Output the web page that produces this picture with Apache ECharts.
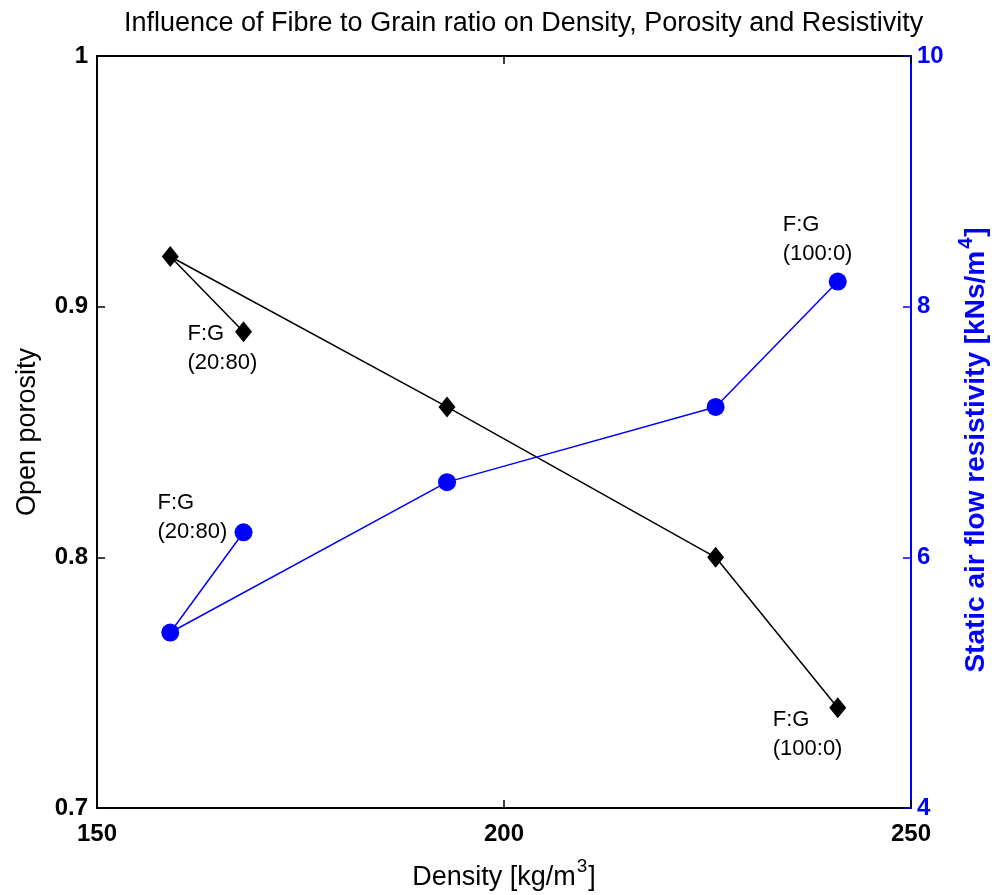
<!DOCTYPE html>
<html>
<head>
<meta charset="utf-8">
<script src="https://cdn.jsdelivr.net/npm/echarts@6/dist/echarts.min.js"></script>
<style>html,body{margin:0;padding:0;background:#fff}#c{width:994px;height:895px}</style>
</head>
<body>
<div id="c"></div>
<script>
const density = [168, 159, 193, 226, 241];
const porosity = [0.89, 0.92, 0.86, 0.80, 0.74];
const resistivity = [6.2, 5.4, 6.6, 7.2, 8.2];
const xTicks = [150, 200, 250];
const leftTicks = [0.7, 0.8, 0.9, 1];
const rightTicks = [4, 6, 8, 10];
const pointLabel = 'F:G';
const ratioStart = '(20:80)';
const ratioEnd = '(100:0)';

const FONT = 'Liberation Sans';
const chart = echarts.init(document.getElementById('c'));

function lbl(text, ox, oy) {
  return {show: true, formatter: text, position: 'inside', align: 'left', verticalAlign: 'middle',
    offset: [ox, oy], color: '#000', fontFamily: FONT, fontSize: 22, lineHeight: 29};
}

const blackData = density.map((d, i) => {
  const o = {value: [d, porosity[i]]};
  if (i === 0) o.label = lbl(pointLabel + '\n' + ratioStart, -56, 17);
  if (i === 4) o.label = lbl(pointLabel + '\n' + ratioEnd, -65, 27);
  return o;
});
const blueData = density.map((d, i) => {
  const o = {value: [d, resistivity[i]]};
  if (i === 0) o.label = lbl(pointLabel + '\n' + ratioStart, -86, -15);
  if (i === 4) o.label = lbl(pointLabel + '\n' + ratioEnd, -55, -42);
  return o;
});

chart.setOption({
  animation: false,
  backgroundColor: '#fff',
  title: {text: 'Influence of Fibre to Grain ratio on Density, Porosity and Resistivity', left: 119, top: 5,
    textStyle: {fontFamily: FONT, fontWeight: 'normal', fontSize: 27, color: '#000'}},
  grid: [{left: 97, right: 83, top: 56, bottom: 87, containLabel: false, outerBoundsMode: 'none'}],
  xAxis: [{
    type: 'value', min: xTicks[0], max: xTicks[xTicks.length - 1], interval: 50,
    name: '{a|Density [kg/m}{s|3}{a|]}', nameLocation: 'middle', nameGap: 49,
    nameTextStyle: {fontFamily: FONT, fontSize: 27, color: '#000',
      rich: {a: {fontFamily: FONT, fontSize: 27, color: '#000', lineHeight: 34, verticalAlign: 'bottom'},
             s: {fontFamily: FONT, fontSize: 19, color: '#000', lineHeight: 34, verticalAlign: 'top', padding: [0, 1, 12, 1]}}},
    axisLine: {lineStyle: {color: '#000', width: 2}},
    axisTick: {inside: true, length: 8, lineStyle: {color: '#000', width: 1.5}},
    axisLabel: {fontFamily: FONT, fontWeight: 'bold', fontSize: 24, color: '#000', margin: 14},
    splitLine: {show: false}
  }, {
    type: 'value', position: 'top', min: 150, max: 250, interval: 50,
    axisLine: {show: true, lineStyle: {color: '#000', width: 2}},
    axisTick: {inside: true, length: 8, lineStyle: {color: '#000', width: 1.5}},
    axisLabel: {show: false}, splitLine: {show: false}
  }],
  yAxis: [{
    type: 'value', min: 0.7, max: 1, interval: 0.1,
    name: 'Open porosity', nameLocation: 'middle', nameGap: 56,
    nameTextStyle: {fontFamily: FONT, fontSize: 27, color: '#000'},
    axisLine: {show: true, lineStyle: {color: '#000', width: 2}},
    axisTick: {inside: true, length: 8, lineStyle: {color: '#000', width: 1.5}},
    axisLabel: {fontFamily: FONT, fontWeight: 'bold', fontSize: 24, color: '#000', margin: 9,
      formatter: v => (Math.abs(v - 1) < 1e-9 ? '1' : v.toFixed(1))},
    splitLine: {show: false}
  }, {
    type: 'value', position: 'right', min: 4, max: 10, interval: 2,
    name: '{a|Static air flow resistivity [kNs/m}{s|4}{a|]}', nameLocation: 'middle', nameGap: 45, nameRotate: 90,
    nameTextStyle: {fontFamily: FONT, fontSize: 28, fontWeight: 'bold', color: '#0000ff', padding: [0, 36, 0, 0],
      rich: {a: {fontFamily: FONT, fontSize: 28, fontWeight: 'bold', color: '#0000ff', lineHeight: 34, verticalAlign: 'bottom'},
             s: {fontFamily: FONT, fontSize: 20, fontWeight: 'bold', color: '#0000ff', lineHeight: 34, verticalAlign: 'top', padding: [0, 1, 12, 2]}}},
    axisLine: {show: true, lineStyle: {color: '#0000ff', width: 2}},
    axisTick: {inside: true, length: 8, lineStyle: {color: '#0000ff', width: 1.5}},
    axisLabel: {fontFamily: FONT, fontWeight: 'bold', fontSize: 24, color: '#0000ff', margin: 6},
    splitLine: {show: false}
  }],
  series: [{
    type: 'line', xAxisIndex: 0, yAxisIndex: 0, data: blackData,
    symbol: 'diamond', symbolSize: [17, 21],
    lineStyle: {color: '#000', width: 1.5}, itemStyle: {color: '#000'}, z: 3
  }, {
    type: 'line', xAxisIndex: 0, yAxisIndex: 1, data: blueData,
    symbol: 'circle', symbolSize: 18,
    lineStyle: {color: '#0000ff', width: 1.5}, itemStyle: {color: '#0000ff'}, z: 3
  }]
});
</script>
</body>
</html>
